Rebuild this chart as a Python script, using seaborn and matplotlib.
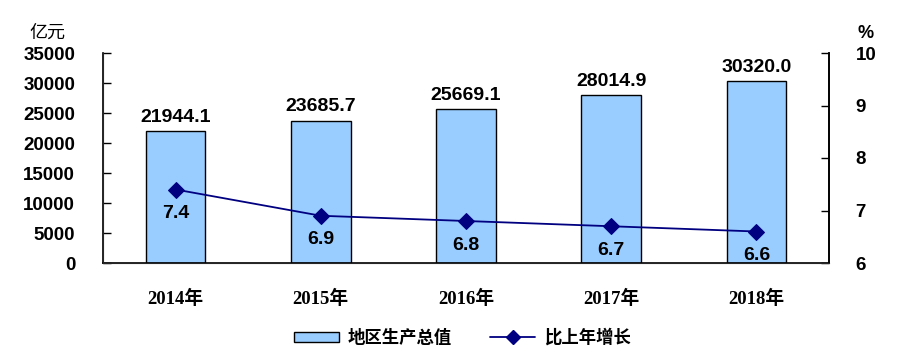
import matplotlib
matplotlib.use("Agg")
import matplotlib.pyplot as plt
import seaborn as sns
import pandas as pd
import numpy as np
from matplotlib.patches import Patch
from matplotlib.lines import Line2D

years = ["2014年", "2015年", "2016年", "2017年", "2018年"]
gdp = [21944.1, 23685.7, 25669.1, 28014.9, 30320.0]
growth = [7.4, 6.9, 6.8, 6.7, 6.6]
left_ticks = [0, 5000, 10000, 15000, 20000, 25000, 30000, 35000]
right_ticks = [6, 7, 8, 9, 10]

sns.set_style("white")
plt.rcParams['font.family'] = ['Liberation Sans', 'Noto Sans CJK SC']
plt.rcParams['text.color'] = 'black'
plt.rcParams['xtick.color'] = 'black'
plt.rcParams['ytick.color'] = 'black'
plt.rcParams['axes.labelcolor'] = 'black'

df = pd.DataFrame({"year": years, "gdp": gdp, "growth": growth})

fig = plt.figure(figsize=(9.01, 3.58), dpi=100)
ax = fig.add_axes([103/901, 1-263/358, (829-103)/901, 210/358])

sns.barplot(data=df, x="year", y="gdp", ax=ax, color="#99CCFF", saturation=1,
            width=0.41, edgecolor="black", linewidth=1.0)
ax.set_ylim(0, 35000)
ax.set_xlim(-0.5, 4.5)
ax.set_yticks(left_ticks)
ax.set_yticklabels([str(v) for v in left_ticks], fontsize=13.5, fontweight='bold')
ax.set_xlabel("")
ax.set_ylabel("")
ax.set_xticks(np.arange(len(years)))
ax.set_xticklabels(years, fontsize=13.5, fontweight='bold',
                   family=['Liberation Serif', 'Noto Sans CJK SC'])
ax.tick_params(axis='x', length=0, pad=19)
ax.set_xticks(np.arange(0.5, len(years) - 1, 1), minor=True)
ax.tick_params(axis='x', which='minor', direction='in', length=5, width=1, color='black')
ax.tick_params(axis='y', direction='in', length=6, width=1, color='black', pad=20)
for lab in ax.get_yticklabels():
    lab.set_horizontalalignment('right')
ax.spines['top'].set_visible(False)
for s in ['left', 'bottom', 'right']:
    ax.spines[s].set_color('black')
    ax.spines[s].set_linewidth(1.2)

for i, v in enumerate(gdp):
    ax.text(i, v + 900, f"{v:.1f}", ha='center', va='bottom', fontsize=14, fontweight='bold')

ax2 = ax.twinx()
sns.lineplot(x=np.arange(len(years)), y=growth, ax=ax2, color="#000080", linewidth=1.3,
             marker='D', markersize=8, markeredgecolor="#000080", markerfacecolor="#000080")
ax2.set_ylim(6, 10)
ax2.set_yticks(right_ticks)
ax2.set_yticklabels([str(v) for v in right_ticks], fontsize=13.5, fontweight='bold')
ax2.tick_params(axis='y', direction='in', length=6, width=1, color='black', pad=19)
ax2.spines['top'].set_visible(False)
ax2.spines['right'].set_color('black')
ax2.spines['right'].set_linewidth(1.2)
ax2.set_xlim(-0.5, 4.5)
for i, v in enumerate(growth):
    ax2.text(i, v - 0.3, f"{v:.1f}", ha='center', va='top', fontsize=14, fontweight='bold')

fig.text(47/901, 1-33/358, "亿元", ha='center', va='center', fontsize=13,
         family=['Noto Sans CJK SC'])
fig.text(866/901, 1-33/358, "%", ha='center', va='center', fontsize=13, fontweight='bold')

handles = [Patch(facecolor="#99CCFF", edgecolor="black", linewidth=1.0),
           Line2D([0], [0], color="#000080", marker='D', markersize=7, linewidth=1.3)]
fig.legend(handles, ["地区生产总值", "比上年增长"], loc='center', bbox_to_anchor=(0.513, 1-338/358),
           ncol=2, frameon=False, prop={'family': ['Noto Sans CJK SC'], 'weight': 'bold', 'size': 12.5},
           handlelength=2.6, handleheight=0.5, columnspacing=2.2, handletextpad=0.5)

fig.savefig("out.png", dpi=100)
